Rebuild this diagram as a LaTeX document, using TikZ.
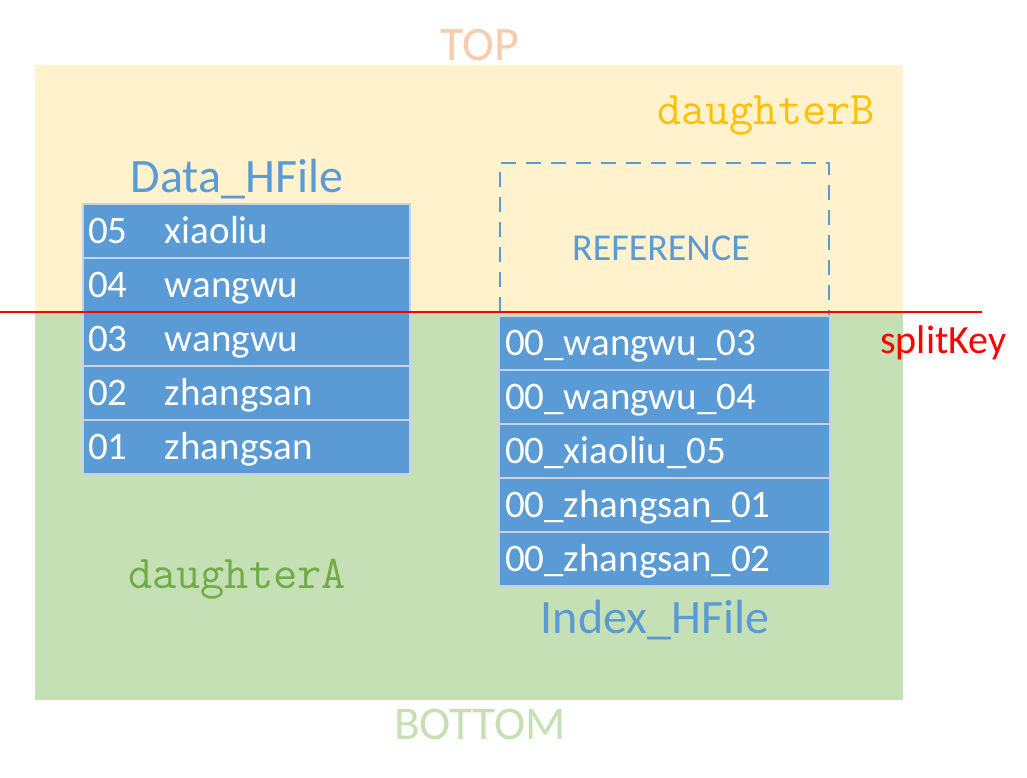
\documentclass[tikz,border=0pt]{standalone}
\usepackage{fontspec}
\setmainfont{Carlito}
\begin{document}
\begin{tikzpicture}[x=1pt,y=-1pt]
    \definecolor{hsplit_top}{RGB}{255,242,204}
    \definecolor{hsplit_bottom}{RGB}{197,224,180}
    \definecolor{hsplit_blue}{RGB}{91,155,213}
    \definecolor{hsplit_rowline}{RGB}{200,210,222}
    \definecolor{hsplit_toptext}{RGB}{248,203,173}
    \definecolor{hsplit_gold}{RGB}{255,192,0}
    \definecolor{hsplit_green}{RGB}{112,173,71}
    \tikzset{
      hsplit_row/.style={shape=rectangle,draw=hsplit_rowline,line width=1.5pt,fill=hsplit_blue,
        minimum width=327pt,minimum height=54pt,text width=317pt,inner xsep=5pt,inner ysep=0pt,
        text height=25pt,text depth=0pt,align=left,text=white,font=\fontsize{39}{40}\selectfont},
      hsplit_index/.style={hsplit_row,minimum width=329pt,text width=319pt,inner xsep=6pt},
      hsplit_label/.style={anchor=base,inner sep=0pt,font=\fontsize{48}{50}\selectfont},
      hsplit_daughter/.style={anchor=base,inner sep=0pt,font=\ttfamily\fontsize{47}{50}\selectfont}
    }
    \useasboundingbox (0,0) rectangle (1027,777);
    % regions
    \fill[hsplit_top] (35,65) rectangle (903,312);
    \fill[hsplit_bottom] (35,312) rectangle (903,700);
    \node[hsplit_label,text=hsplit_toptext] (top) at (480,60) {TOP};
    \node[hsplit_label,text=hsplit_bottom,font=\fontsize{47}{50}\selectfont] (bottom) at (480,739) {BOTTOM};
    \node[hsplit_daughter,text=hsplit_gold] (dB) at (766,124) {daughterB};
    \node[hsplit_daughter,text=hsplit_green] (dA) at (237,588) {daughterA};
    % data hfile
    \node[hsplit_label,text=hsplit_blue] (data_title) at (237,192) {Data\_HFile};
    \node[hsplit_row] (d5) at (246.5,231) {\makebox[77pt][l]{05}xiaoliu};
    \node[hsplit_row] (d4) at (246.5,285) {\makebox[77pt][l]{04}wangwu};
    \node[hsplit_row] (d3) at (246.5,339) {\makebox[77pt][l]{03}wangwu};
    \node[hsplit_row] (d2) at (246.5,393) {\makebox[77pt][l]{02}zhangsan};
    \node[hsplit_row] (d1) at (246.5,447) {\makebox[77pt][l]{01}zhangsan};
    % index hfile
    \node[shape=rectangle,draw=hsplit_blue,line width=1.5pt,dash pattern=on 15pt off 10pt,
      minimum width=329pt,minimum height=158pt] (ref) at (664.5,242) {};
    \node[anchor=base,inner sep=0pt,text=hsplit_blue,font=\fontsize{38}{40}\selectfont] (ref_text) at (661,260) {REFERENCE};
    \node[hsplit_index] (i1) at (664.5,343) {00\_wangwu\_03};
    \node[hsplit_index] (i2) at (664.5,397) {00\_wangwu\_04};
    \node[hsplit_index] (i3) at (664.5,451) {00\_xiaoliu\_05};
    \node[hsplit_index] (i4) at (664.5,505) {00\_zhangsan\_01};
    \node[hsplit_index] (i5) at (664.5,559) {00\_zhangsan\_02};
    \node[hsplit_label,text=hsplit_blue] (index_title) at (655,633) {Index\_HFile};
    % split line
    \coordinate (split_l) at (0,312);
    \coordinate (split_r) at (982,312);
    \draw[red,line width=1.5pt] (split_l) -- (split_r);
    \node[anchor=base west,inner sep=0pt,text=red,font=\fontsize{40}{42}\selectfont] (split) at (880,353) {splitKey};
    \end{tikzpicture}
\end{document}
